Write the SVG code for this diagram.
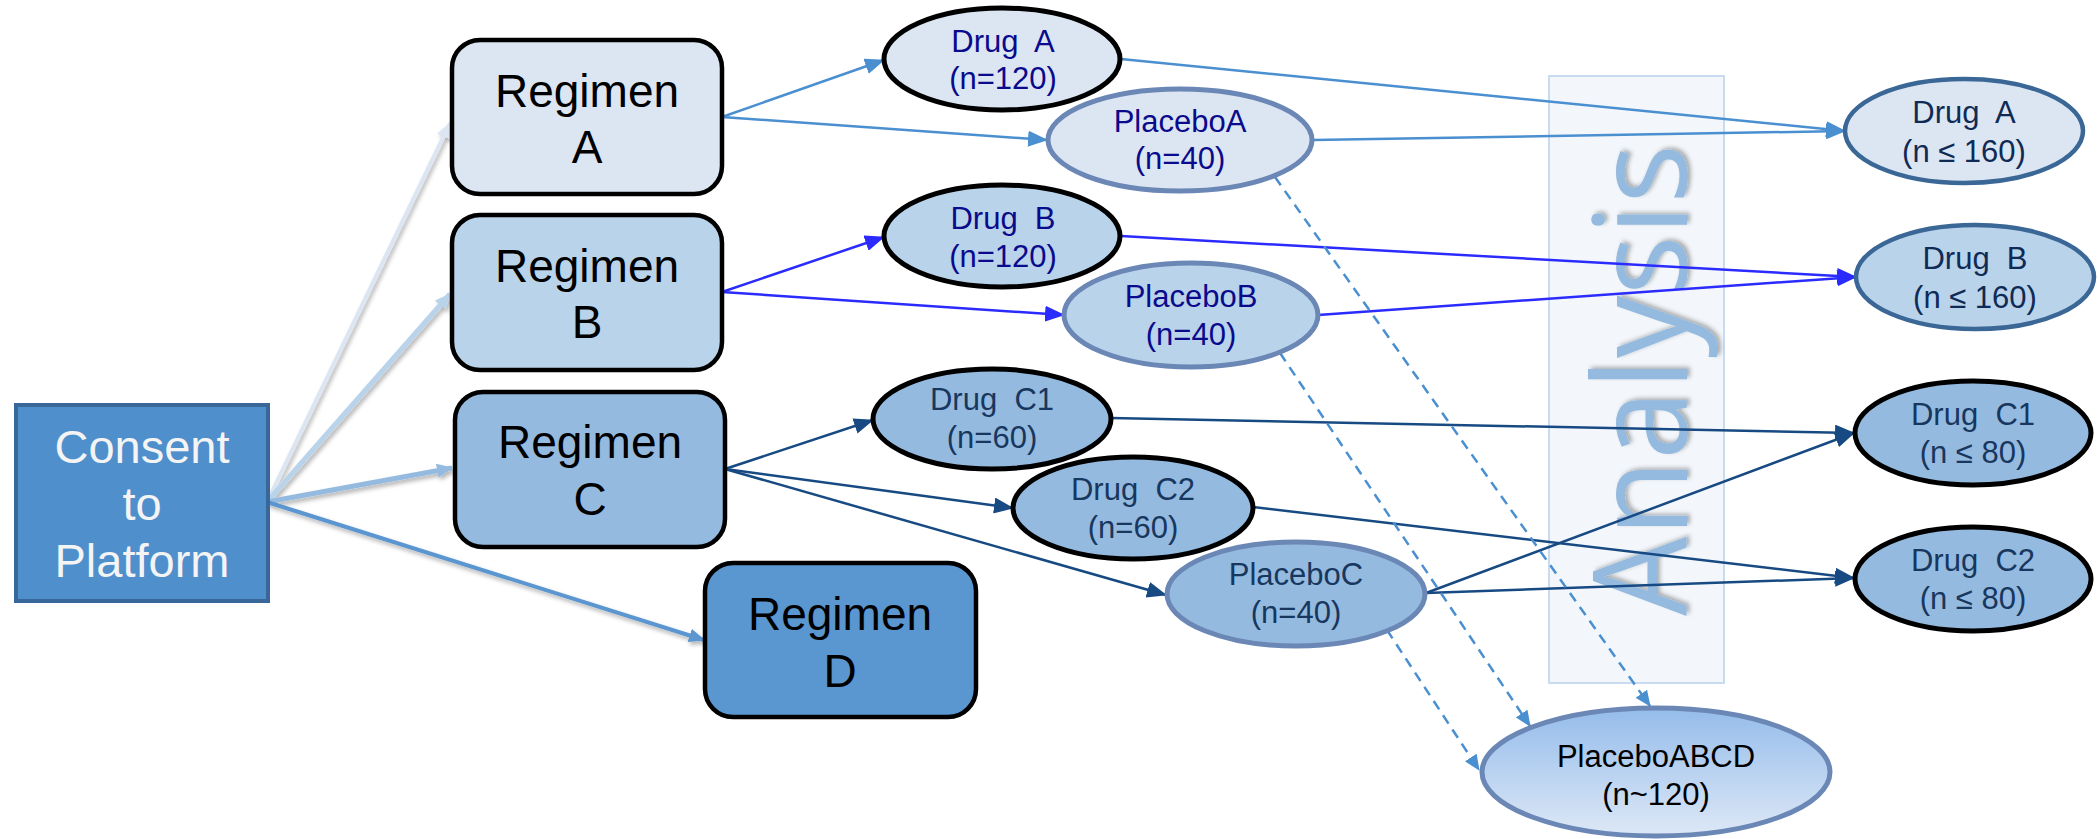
<svg xmlns="http://www.w3.org/2000/svg" width="2098" height="839" viewBox="0 0 2098 839">
<style>
text{font-family:"Liberation Sans",Arial,sans-serif;text-anchor:middle}
.reg{fill:#000;font-size:46px}
.box{stroke:#000;stroke-width:4.5}
.el{font-size:31px}
.tA{fill:#0A0A8C}
.tC{fill:#17375E}
.tR{fill:#0F2B55}
.blk{stroke:#000;stroke-width:5}
.pl{stroke:#6A87B5;stroke-width:5}
.rt{stroke:#3A6796;stroke-width:4.5}
.lA{stroke:#4A8FD0;stroke-width:2.5;fill:none}
.lB{stroke:#2B2BFF;stroke-width:2.5;fill:none}
.lC{stroke:#174A82;stroke-width:2.5;fill:none}
.ld{stroke:#4A8FD0;stroke-width:2.5;fill:none;stroke-dasharray:10 7}
</style>
<defs>
<marker id="mA" markerUnits="userSpaceOnUse" markerWidth="20" markerHeight="16" refX="19" refY="8" orient="auto"><path d="M0,0 L20,8 L0,16 z" fill="#4A8FD0"/></marker>
<marker id="mB" markerUnits="userSpaceOnUse" markerWidth="20" markerHeight="16" refX="19" refY="8" orient="auto"><path d="M0,0 L20,8 L0,16 z" fill="#2B2BFF"/></marker>
<marker id="mC" markerUnits="userSpaceOnUse" markerWidth="20" markerHeight="16" refX="19" refY="8" orient="auto"><path d="M0,0 L20,8 L0,16 z" fill="#174A82"/></marker>
<marker id="md" markerUnits="userSpaceOnUse" markerWidth="16" markerHeight="14" refX="15" refY="7" orient="auto"><path d="M0,0 L16,7 L0,14 z" fill="#4A8FD0"/></marker>
<marker id="m1" markerUnits="userSpaceOnUse" markerWidth="16" markerHeight="14" refX="15" refY="7" orient="auto"><path d="M0,0 L16,7 L0,14 z" fill="#DCE6F2"/></marker>
<marker id="m2" markerUnits="userSpaceOnUse" markerWidth="16" markerHeight="14" refX="15" refY="7" orient="auto"><path d="M0,0 L16,7 L0,14 z" fill="#B9D3EA"/></marker>
<marker id="m3" markerUnits="userSpaceOnUse" markerWidth="16" markerHeight="14" refX="15" refY="7" orient="auto"><path d="M0,0 L16,7 L0,14 z" fill="#95BADF"/></marker>
<marker id="m4" markerUnits="userSpaceOnUse" markerWidth="16" markerHeight="14" refX="15" refY="7" orient="auto"><path d="M0,0 L16,7 L0,14 z" fill="#5B96D0"/></marker>
<filter id="sh" x="-20%" y="-20%" width="140%" height="140%"><feDropShadow dx="2" dy="3" stdDeviation="2" flood-color="#000" flood-opacity="0.3"/></filter>
<linearGradient id="gABCD" x1="0" y1="0" x2="0" y2="1"><stop offset="0" stop-color="#95BCEB"/><stop offset="1" stop-color="#DDE8F6"/></linearGradient>
</defs>

<g id="analysis">
<rect x="1549" y="76" width="175" height="607" fill="#F3F7FB" stroke="#C9DBF0" stroke-width="2"/>
<text transform="translate(1687,380) rotate(-90)" style="font-family:'Open Sans',sans-serif;font-size:130px;fill:#95BADF" filter="url(#sh)" textLength="472" lengthAdjust="spacingAndGlyphs">Analysis</text>
</g>

<g id="connectors">
<g filter="url(#sh)">
<line x1="267" y1="502" x2="450" y2="123" stroke="#DCE6F2" stroke-width="4" marker-end="url(#m1)"/>
<line x1="267" y1="502" x2="450" y2="294" stroke="#B9D3EA" stroke-width="5" marker-end="url(#m2)"/>
<line x1="267" y1="502" x2="452" y2="468" stroke="#95BADF" stroke-width="5" marker-end="url(#m3)"/>
<line x1="267" y1="502" x2="704" y2="640" stroke="#5B96D0" stroke-width="4" marker-end="url(#m4)"/>
</g>
<line class="lA" x1="722" y1="117" x2="884" y2="60" marker-end="url(#mA)"/>
<line class="lA" x1="722" y1="117" x2="1047" y2="140" marker-end="url(#mA)"/>
<line class="lA" x1="1121" y1="59" x2="1845" y2="131" marker-end="url(#mA)"/>
<line class="lA" x1="1313" y1="140" x2="1845" y2="131" marker-end="url(#mA)"/>
<line class="lB" x1="722" y1="292" x2="884" y2="237" marker-end="url(#mB)"/>
<line class="lB" x1="722" y1="292" x2="1064" y2="315" marker-end="url(#mB)"/>
<line class="lB" x1="1121" y1="236" x2="1856" y2="277" marker-end="url(#mB)"/>
<line class="lB" x1="1318" y1="315" x2="1856" y2="277" marker-end="url(#mB)"/>
<line class="lC" x1="725" y1="469" x2="873" y2="420" marker-end="url(#mC)"/>
<line class="lC" x1="725" y1="469" x2="1013" y2="508" marker-end="url(#mC)"/>
<line class="lC" x1="725" y1="469" x2="1166" y2="595" marker-end="url(#mC)"/>
<line class="lC" x1="1111" y1="418" x2="1854" y2="433" marker-end="url(#mC)"/>
<line class="lC" x1="1253" y1="507" x2="1854" y2="578" marker-end="url(#mC)"/>
<line class="lC" x1="1426" y1="593" x2="1854" y2="433" marker-end="url(#mC)"/>
<line class="lC" x1="1426" y1="593" x2="1854" y2="578" marker-end="url(#mC)"/>
<line class="ld" x1="1275" y1="177" x2="1650" y2="706" marker-end="url(#md)"/>
<line class="ld" x1="1280" y1="353" x2="1530" y2="726" marker-end="url(#md)"/>
<line class="ld" x1="1387" y1="630" x2="1479" y2="770" marker-end="url(#md)"/>
</g>

<g id="consent">
<rect x="16" y="405" width="252" height="196" fill="#4F8FCC" stroke="#3A679A" stroke-width="4"/>
<text x="142" y="463" style="font-size:47px;fill:#F4F4F4">Consent</text>
<text x="142" y="520" style="font-size:47px;fill:#F4F4F4">to</text>
<text x="142" y="577" style="font-size:47px;fill:#F4F4F4">Platform</text>
</g>

<g id="regimenA">
<rect class="box" x="452" y="40" width="270" height="154" rx="28" fill="#DCE6F2"/>
<text class="reg" x="587" y="107">Regimen</text><text class="reg" x="587" y="163">A</text>
</g>
<g id="regimenB">
<rect class="box" x="452" y="215" width="270" height="155" rx="28" fill="#B9D3EA"/>
<text class="reg" x="587" y="282">Regimen</text><text class="reg" x="587" y="338">B</text>
</g>
<g id="regimenC">
<rect class="box" x="455" y="392" width="270" height="155" rx="28" fill="#95BADF"/>
<text class="reg" x="590" y="458">Regimen</text><text class="reg" x="590" y="515">C</text>
</g>
<g id="regimenD">
<rect class="box" x="705" y="563" width="271" height="154" rx="28" fill="#5A96D0"/>
<text class="reg" x="840" y="630">Regimen</text><text class="reg" x="840" y="687">D</text>
</g>

<g id="drugA">
<ellipse class="blk" cx="1002" cy="59" rx="118" ry="51" fill="#DCE6F2"/>
<text class="el tA" x="1003" y="52" xml:space="preserve">Drug  A</text><text class="el tA" x="1003" y="89">(n=120)</text>
</g>
<g id="placeboA">
<ellipse class="pl" cx="1180" cy="140" rx="132" ry="51" fill="#DCE6F2"/>
<text class="el tA" x="1180" y="132">PlaceboA</text><text class="el tA" x="1180" y="169">(n=40)</text>
</g>
<g id="drugB">
<ellipse class="blk" cx="1002" cy="236" rx="118" ry="51" fill="#B9D3EA"/>
<text class="el tA" x="1003" y="229" xml:space="preserve">Drug  B</text><text class="el tA" x="1003" y="267">(n=120)</text>
</g>
<g id="placeboB">
<ellipse class="pl" cx="1191" cy="315" rx="127" ry="52" fill="#B9D3EA"/>
<text class="el tA" x="1191" y="307">PlaceboB</text><text class="el tA" x="1191" y="345">(n=40)</text>
</g>
<g id="drugC1">
<ellipse class="blk" cx="992" cy="419" rx="119" ry="50" fill="#95BADF"/>
<text class="el tC" x="992" y="410" xml:space="preserve">Drug  C1</text><text class="el tC" x="992" y="448">(n=60)</text>
</g>
<g id="drugC2">
<ellipse class="blk" cx="1133" cy="508" rx="120" ry="51" fill="#95BADF"/>
<text class="el tC" x="1133" y="500" xml:space="preserve">Drug  C2</text><text class="el tC" x="1133" y="538">(n=60)</text>
</g>
<g id="placeboC">
<ellipse class="pl" cx="1296" cy="594" rx="129" ry="52" fill="#95BADF"/>
<text class="el tC" x="1296" y="585">PlaceboC</text><text class="el tC" x="1296" y="623">(n=40)</text>
</g>

<g id="outA">
<ellipse class="rt" cx="1964" cy="131" rx="119" ry="52" fill="#DCE6F2"/>
<text class="el tR" x="1964" y="123" xml:space="preserve">Drug  A</text><text class="el tR" x="1964" y="162">(n ≤ 160)</text>
</g>
<g id="outB">
<ellipse class="rt" cx="1975" cy="277" rx="119" ry="52" fill="#B9D3EA"/>
<text class="el tR" x="1975" y="269" xml:space="preserve">Drug  B</text><text class="el tR" x="1975" y="308">(n ≤ 160)</text>
</g>
<g id="outC1">
<ellipse class="blk" cx="1973" cy="433" rx="118" ry="52" fill="#95BADF"/>
<text class="el tC" x="1973" y="425" xml:space="preserve">Drug  C1</text><text class="el tC" x="1973" y="463">(n ≤ 80)</text>
</g>
<g id="outC2">
<ellipse class="blk" cx="1973" cy="579" rx="118" ry="52" fill="#95BADF"/>
<text class="el tC" x="1973" y="571" xml:space="preserve">Drug  C2</text><text class="el tC" x="1973" y="609">(n ≤ 80)</text>
</g>
<g id="placeboABCD">
<ellipse class="pl" cx="1656" cy="772" rx="174" ry="64" fill="url(#gABCD)"/>
<text class="el" x="1656" y="767" fill="#000">PlaceboABCD</text><text class="el" x="1656" y="805" fill="#000">(n~120)</text>
</g>
</svg>
